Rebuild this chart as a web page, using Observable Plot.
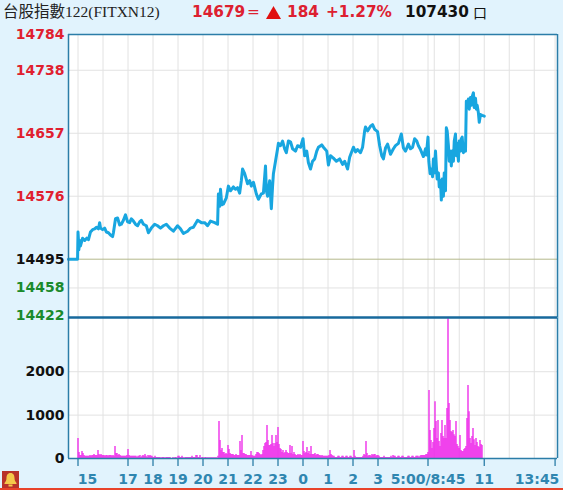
<!DOCTYPE html>
<html><head><meta charset="utf-8">
<script src="https://cdn.jsdelivr.net/npm/d3@7"></script>
<script src="https://cdn.jsdelivr.net/npm/@observablehq/plot@0.6"></script>
<style>
html,body{margin:0;padding:0;background:#e1f3fd;width:563px;height:490px;overflow:hidden}
#wrap{position:relative;width:563px;height:490px}
#wrap>svg{position:absolute;left:0;top:0;background:transparent}
.h{position:absolute;top:2px;white-space:nowrap;font:bold 15.3px "DejaVu Sans",sans-serif;line-height:20px;color:#dd2030}
#title{left:3px;font:15.5px "Liberation Serif","Noto Sans CJK TC",serif;line-height:20px;color:#222}
#bar{position:absolute;left:0;top:487.5px;width:563px;height:2.5px;background:#e8432a}
</style></head><body><div id="wrap"></div>
<script>
const priceTimes=[-23,-1,0,1,2,4,6,11,16,21,25,30,35,40,44,49,52,54,59,64,68,73,78,83,85,90,95,100,104,109,114,119,124,128,133,138,143,148,152,157,164,169,176,184,191,198,205,212,220,229,239,246,253,263,270,277,287,296,304,311,318,328,335,337,340,342,345,349,356,361,366,373,378,383,388,392,395,400,407,412,416,421,428,433,440,445,450,452,455,460,464,467,469,474,479,481,486,491,496,500,505,510,515,522,527,534,540,544,549,553,558,563,568,573,577,585,589,597,601,606,613,620,628,635,640,647,652,656,661,666,671,678,683,688,690,695,702,707,712,719,724,729,733,738,743,750,757,762,769,776,781,786,793,798,803,808,813,817,822,829,834,836,840,842,845,848,851,853,855,858,860,862,865,867,870,872,874,877,879,882,884,886,889,891,894,896,898,901,903,906,908,910,913,915,918,920,922,925,927,930,932,934,937,939,942,944,946,949,951,954,956,958,961,963,966,970,975];
const prices=[14495,14495,14530,14521,14507,14519,14512,14522,14519,14522,14520,14530,14533,14534,14536,14534,14542,14535,14533,14535,14530,14529,14526,14524,14529,14547,14548,14539,14540,14545,14552,14543,14542,14547,14544,14540,14538,14543,14545,14540,14538,14529,14535,14540,14538,14535,14538,14540,14535,14531,14538,14534,14528,14531,14535,14536,14545,14542,14542,14538,14544,14542,14540,14579,14563,14585,14565,14566,14574,14589,14583,14588,14585,14587,14580,14596,14611,14605,14592,14596,14589,14594,14579,14572,14579,14580,14615,14583,14576,14596,14560,14589,14605,14621,14637,14644,14641,14647,14637,14632,14647,14646,14637,14634,14641,14639,14650,14628,14634,14619,14611,14621,14624,14634,14639,14642,14639,14634,14616,14628,14625,14621,14624,14617,14621,14611,14626,14632,14639,14633,14636,14632,14639,14660,14665,14660,14666,14668,14662,14659,14641,14628,14624,14638,14643,14630,14637,14641,14644,14656,14638,14634,14643,14637,14639,14650,14647,14641,14636,14627,14637,14629,14652,14621,14605,14611,14601,14624,14606,14634,14615,14598,14606,14588,14596,14571,14598,14576,14606,14583,14664,14660,14641,14621,14634,14615,14634,14621,14647,14656,14628,14644,14621,14647,14634,14650,14652,14632,14641,14634,14698,14691,14701,14688,14703,14693,14704,14709,14690,14702,14688,14693,14683,14671,14681,14680,14679];
// volume per bar, one bar per 2.4 minutes from 15:00
const volumes=[460,140,70,70,160,115,70,50,50,50,50,50,70,50,70,70,90,70,70,70,185,90,70,90,70,70,70,50,70,70,50,70,70,70,50,70,50,275,115,115,70,90,70,50,50,50,50,50,50,70,205,70,50,50,50,50,50,50,50,25,50,50,70,25,50,70,50,90,50,25,70,50,70,50,50,25,25,50,25,25,25,25,25,0,25,25,25,0,25,25,25,25,25,0,0,25,0,25,25,0,50,50,25,25,50,25,0,25,25,25,25,25,25,25,50,25,25,25,70,70,25,25,70,0,25,25,0,25,25,0,25,0,25,0,25,0,25,0,25,0,50,850,415,185,230,140,140,90,115,90,300,205,115,90,90,90,70,70,90,70,70,70,390,185,530,115,115,90,90,70,70,70,70,160,70,50,50,50,90,140,140,115,90,70,90,185,275,345,370,760,415,300,300,320,530,345,275,345,530,370,715,320,230,205,140,185,115,140,185,140,115,115,300,115,275,90,140,90,70,70,90,70,90,70,70,390,160,115,140,255,115,160,90,275,90,90,90,115,70,90,90,70,70,50,70,50,50,50,50,50,50,70,185,90,70,50,50,25,25,25,50,50,25,25,50,50,25,25,50,50,25,25,50,50,25,25,185,50,25,25,25,25,25,25,25,50,90,70,390,115,50,70,70,50,90,70,90,90,50,70,70,50,25,25,25,25,50,25,25,25,25,25,25,50,25,70,50,50,25,25,50,50,25,25,50,50,25,25,25,25,50,50,25,25,50,50,25,25,50,50,50,25,50,70,70,70,70,70,90,90,140,1565,645,415,230,370,690,1310,850,460,875,390,275,575,875,505,460,760,460,1150,3220,1265,875,620,600,645,550,505,850,320,275,230,530,185,160,160,205,230,275,920,1680,1080,460,345,505,690,435,300,460,370,275,255,415,320,300];
const xGrid=[0,60,120,180,240,300,360,420,480,540,600,660,720,780,840,855,915,975,1035,1095,1145];
const xTicks=[0,120,180,240,300,360,420,480,540,600,660,720,840,975,1145];
const xLabels=["15","17","18","19","20","21","22","23","0","1","2","3","5:00/8:45","11","13:45"];
const priceTicks=[14784,14738,14657,14576,14495,14458,14422];
const priceGrid=[14738,14657,14576,14458];
const volTicks=[0,1000,2000];
const volGrid=[1000,2000];
const BASE=14495;
const xDomain=[-22.8,1150.8];
const FONT='"DejaVu Sans",sans-serif';
const tickColor=d=>d>BASE?"#e0202f":d<BASE?"#1a8a2c":"#111";
const priceData=prices.map((p,i)=>({t:priceTimes[i],p}));
const volData=volumes.map((v,i)=>({t:i*2.4,v}));
const xLabelDx={"15":9.5,"13:45":-18};

const pricePlot=Plot.plot({
  width:563,height:490,marginLeft:68,marginRight:6,marginTop:34,marginBottom:173,
  x:{domain:xDomain,axis:null},y:{domain:[14420,14784],axis:null},
  style:{background:"transparent",overflow:"visible"},
  marks:[
    Plot.frame({fill:"white",stroke:null}),
    Plot.ruleX(xGrid,{stroke:"#e2e2e2",strokeWidth:1}),
    Plot.ruleY(priceGrid,{stroke:"#e2e2e2",strokeWidth:1}),
    Plot.ruleY([BASE],{stroke:"#b4b88c",strokeWidth:1}),
    Plot.line(priceData,{x:"t",y:"p",stroke:"#18a6e0",strokeWidth:3,strokeLinejoin:"round"}),
    Plot.ruleX(xDomain,{stroke:"#2b7da8",strokeWidth:1.5}),
    Plot.ruleY([14784],{stroke:"#2b7da8",strokeWidth:1.5}),
    Plot.ruleY([14420],{stroke:"#17699c",strokeWidth:2.5}),
    Plot.text(priceTicks,{x:()=>xDomain[0],y:d=>d,text:d=>String(d),textAnchor:"end",dx:-4,fill:tickColor,fontSize:14,fontWeight:"bold",fontFamily:FONT})
  ]
});
const volPlot=Plot.plot({
  width:563,height:490,marginLeft:68,marginRight:6,marginTop:317,marginBottom:32,
  x:{domain:xDomain,axis:null},y:{domain:[0,3250],axis:null},
  style:{background:"transparent",overflow:"visible"},
  marks:[
    Plot.frame({fill:"white",stroke:null}),
    Plot.ruleX(xGrid,{stroke:"#e2e2e2",strokeWidth:1}),
    Plot.ruleY(volGrid,{stroke:"#e2e2e2",strokeWidth:1}),
    Plot.ruleX(volData,{x:"t",y1:0,y2:"v",stroke:"#ee30ea",strokeWidth:1.4}),
    Plot.ruleX(xDomain,{stroke:"#2b7da8",strokeWidth:1.5}),
    Plot.ruleY([0],{stroke:"#2b7da8",strokeWidth:1.5}),
    Plot.ruleX(xTicks,{y1:0,y2:-184,stroke:"#2b7da8",strokeWidth:1.3}),
    Plot.text(volTicks,{x:()=>xDomain[0],y:d=>d,text:d=>String(d),textAnchor:"end",dx:-4,fill:"#111",fontSize:14,fontWeight:"bold",fontFamily:FONT}),
    Plot.text(xLabels.map((l,i)=>({l,t:xTicks[i]+(xLabelDx[l]||0)*2.4})),{x:"t",y:()=>0,text:"l",dy:21,fill:"#2f86b0",fontSize:14,fontWeight:"bold",fontFamily:FONT})
  ]
});
const wrap=document.getElementById("wrap");
wrap.append(volPlot,pricePlot);
const head=[["title",null,"台股指數122(FITXN12)"],["p","left:192px","14679"],["e","left:247px;font-weight:normal","="],
["d","left:287px","184"],["c","left:326px","+1.27%"],["n","left:405px;color:#111","107430"],["u","left:473px;color:#111;font-weight:normal;font-family:'Noto Sans CJK TC';font-size:14px","口"]];
for(const [id,st,tx] of head){const e=document.createElement("div");e.className="h";if(id==="title")e.id="title";if(st)e.style.cssText=st;e.textContent=tx;wrap.append(e);}
wrap.insertAdjacentHTML("beforeend",`<svg style="left:266px;top:6px" width="15" height="13"><path d="M7.5 0L15 13H0Z" fill="#e01010"/></svg>
<svg style="left:2px;top:471px" width="17" height="17" viewBox="0 0 17 17"><rect width="17" height="17" fill="#b8322a"/><path d="M8.5 2c3 0 4 2.5 4 5 0 2.5 1 3.5 2 5v1h-12v-1c1-1.5 2-2.5 2-5 0-2.5 1-5 4-5z" fill="#f4c84a"/><rect x="6.5" y="13.5" width="4" height="2" fill="#f4c84a"/></svg><div id="bar"></div>`);
</script></body></html>
